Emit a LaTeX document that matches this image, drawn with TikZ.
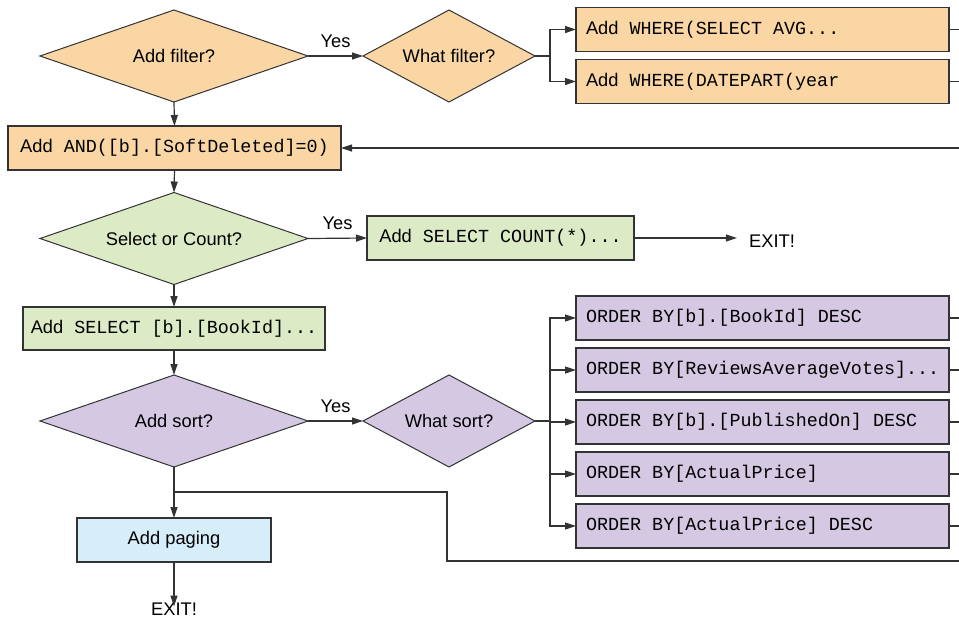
\documentclass[tikz,border=0pt]{standalone}
\usepackage{fontspec}
\setmainfont{Liberation Sans}
\setmonofont{Liberation Mono}
\usetikzlibrary{shapes.geometric,arrows.meta}
\definecolor{fOrange}{HTML}{F9D6A4}
\definecolor{fGreen}{HTML}{DDEAC6}
\definecolor{fPurple}{HTML}{D5C8E3}
\definecolor{fBlue}{HTML}{D6EEF9}
\definecolor{lineC}{HTML}{333333}
\newcommand{\monoset}{\ttfamily\fontsize{18.4}{21}\selectfont}
\newcommand{\ms}{\hspace*{11.04pt}}
\newcommand{\cd}[1]{\hspace{11pt}{\monoset #1}}
\newcommand{\cdo}[1]{{\monoset #1}}
\begin{document}
\begin{tikzpicture}[x=1pt,y=-1pt,
  base/.style={font=\fontsize{18.3}{21}\selectfont, text=black},
  dia/.style={base, diamond, draw=lineC, line width=1pt, minimum width=268pt, minimum height=92pt, inner sep=0pt, outer sep=0pt, shape aspect=2.9},
  sdia/.style={dia, minimum width=172pt, shape aspect=1.9},
  boxn/.style={base, rectangle, draw=lineC, line width=1.3pt, minimum height=44pt, inner sep=0pt, outer sep=0pt},
  lbox/.style={boxn, minimum width=373pt, text width=353pt, align=left},
  conn/.style={draw=lineC, line width=1.2pt},
  arr/.style={conn, -{Triangle[length=11pt,width=7pt]}},
  lab/.style={base, inner sep=3pt},
  yes/.style={lab, above, pos=0.5, yshift=5pt},
]
\useasboundingbox (0,0) rectangle (959,619);
\coordinate (edge) at (959,0);

% filter section
\node[dia, fill=fOrange] (filt) at (174,56) {Add filter?};
\node[sdia, fill=fOrange] (wfilt) at (449,56) {What filter?};
\node[lbox, fill=fOrange] (w1) at (762.5,29.5) {Add\cd{WHERE(SELECT\ms AVG...}};
\node[lbox, fill=fOrange] (w2) at (762.5,81.5) {Add\cd{WHERE(DATEPART(year}};
\node[boxn, fill=fOrange, minimum width=333pt] (and) at (174.5,148) {Add\cd{AND([b].[SoftDeleted]=0)}};

\draw[arr] (filt.east) -- node[yes] {Yes} (wfilt.west);
\coordinate (bf) at (550,56);
\draw[conn] (wfilt.east) -- (bf);
\draw[arr] (bf) |- (w1.west);
\draw[arr] (bf) |- (w2.west);
\draw[conn] (w1.east) -- (w1.east -| edge);
\draw[conn] (w2.east) -- (w2.east -| edge);
\draw[arr] (filt.south) -- (and.north);
\draw[arr] (and.east -| edge) -- (and.east);

% select / count
\node[dia, fill=fGreen] (selc) at (174,238.5) {Select or Count?};
\node[boxn, fill=fGreen, minimum width=267pt] (cnt) at (500.5,238) {Add\cd{SELECT\ms COUNT(*)...}};
\node[lab, inner sep=0pt] (exit1) at (772,241) {EXIT!};
\node[boxn, fill=fGreen, minimum width=302pt, minimum height=43pt] (sel) at (174,328.5) {Add\cd{SELECT\ms [b].[BookId]...}};

\draw[arr] (and.south) -- (selc.north);
\draw[arr] (selc.east) -- node[yes] {Yes} (cnt.west);
\draw[arr] (cnt.east) -- ([xshift=-12pt]exit1.west |- cnt.east);
\draw[arr] (selc.south) -- (sel.north);

% sort section
\node[dia, fill=fPurple] (sort) at (174,421) {Add sort?};
\node[sdia, fill=fPurple] (wsort) at (449,421) {What sort?};
\node[lbox, fill=fPurple] (o1) at (762.5,318) {\cdo{ORDER\ms BY[b].[BookId]\ms DESC}};
\node[lbox, fill=fPurple] (o2) at (762.5,370) {\cdo{ORDER\ms BY[ReviewsAverageVotes]...}};
\node[lbox, fill=fPurple] (o3) at (762.5,422) {\cdo{ORDER\ms BY[b].[PublishedOn]\ms DESC}};
\node[lbox, fill=fPurple] (o4) at (762.5,474) {\cdo{ORDER\ms BY[ActualPrice]}};
\node[lbox, fill=fPurple] (o5) at (762.5,526) {\cdo{ORDER\ms BY[ActualPrice]\ms DESC}};

\draw[arr] (sel.south) -- (sort.north);
\draw[arr] (sort.east) -- node[yes] {Yes} (wsort.west);
\coordinate (bs) at (550,421);
\draw[conn] (wsort.east) -- (bs);
\foreach \o in {o1,o2,o3,o4,o5} {
  \draw[arr] (bs) |- (\o.west);
  \draw[conn] (\o.east) -- (\o.east -| edge);
}

% paging
\node[boxn, fill=fBlue, minimum width=194pt] (page) at (174,540) {Add paging};
\node[lab, inner sep=0pt] (exit2) at (174,609) {EXIT!};
\draw[arr] (sort.south) -- (page.north);
\coordinate (jn) at (174,492);
\coordinate (jr) at (447,492);
\coordinate (jd) at (447,561);
\draw[conn] (jn) -- (jr) -- (jd) -- (jd -| edge);
\draw[arr] (page.south) -- ([yshift=-4pt]exit2.north);
\end{tikzpicture}
\end{document}
